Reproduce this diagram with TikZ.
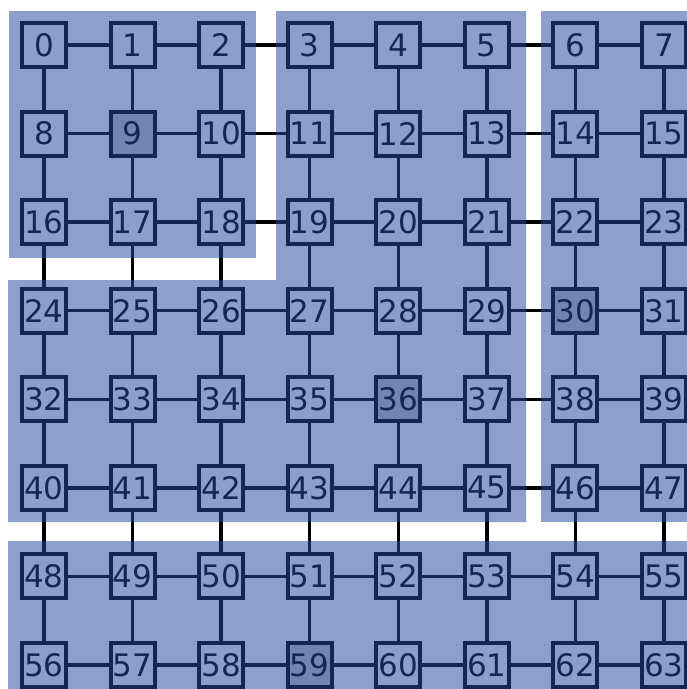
\documentclass[tikz,border=0pt]{standalone}
\usepackage{fontspec}
\setmainfont{DejaVu Sans}
\definecolor{ovl}{RGB}{41,72,160}
\begin{document}
\begin{tikzpicture}[x=1pt,y=-1pt,
  cell/.style={draw=black,line width=4pt,fill=white,minimum size=44pt,inner sep=0pt,font=\fontsize{31}{31}\selectfont},
  hot/.style={fill=black!22},
  hot9/.style={hot},hot30/.style={hot},hot36/.style={hot},hot59/.style={hot},
  link/.style={line width=3.5pt,draw=black},
  region/.style={fill=ovl,fill opacity=0.53,draw=none}]
\useasboundingbox (0,0) rectangle (687,689);
\foreach \i in {0,...,63}{
  \pgfmathtruncatemacro\c{mod(\i,8)}
  \pgfmathtruncatemacro\r{div(\i,8)}
  \node[cell,hot\i/.try] (n\i) at ({44+88.57*\c},{45+88.57*\r}) {\i};
}
\foreach \i in {0,...,63}{
  \pgfmathtruncatemacro\c{mod(\i,8)}
  \pgfmathtruncatemacro\rt{\i+1}
  \pgfmathtruncatemacro\dn{\i+8}
  \ifnum\c<7 \draw[link] (n\i) -- (n\rt); \fi
  \ifnum\i<56 \draw[link] (n\i) -- (n\dn); \fi
}
\fill[region] (9,11) rectangle (256,258);
\fill[region] (276,11) -- (526,11) -- (526,522) -- (8,522) -- (8,280) -- (276,280) -- cycle;
\fill[region] (541,11) rectangle (687,522);
\fill[region] (8,541) rectangle (687,689);
\end{tikzpicture}
\end{document}
